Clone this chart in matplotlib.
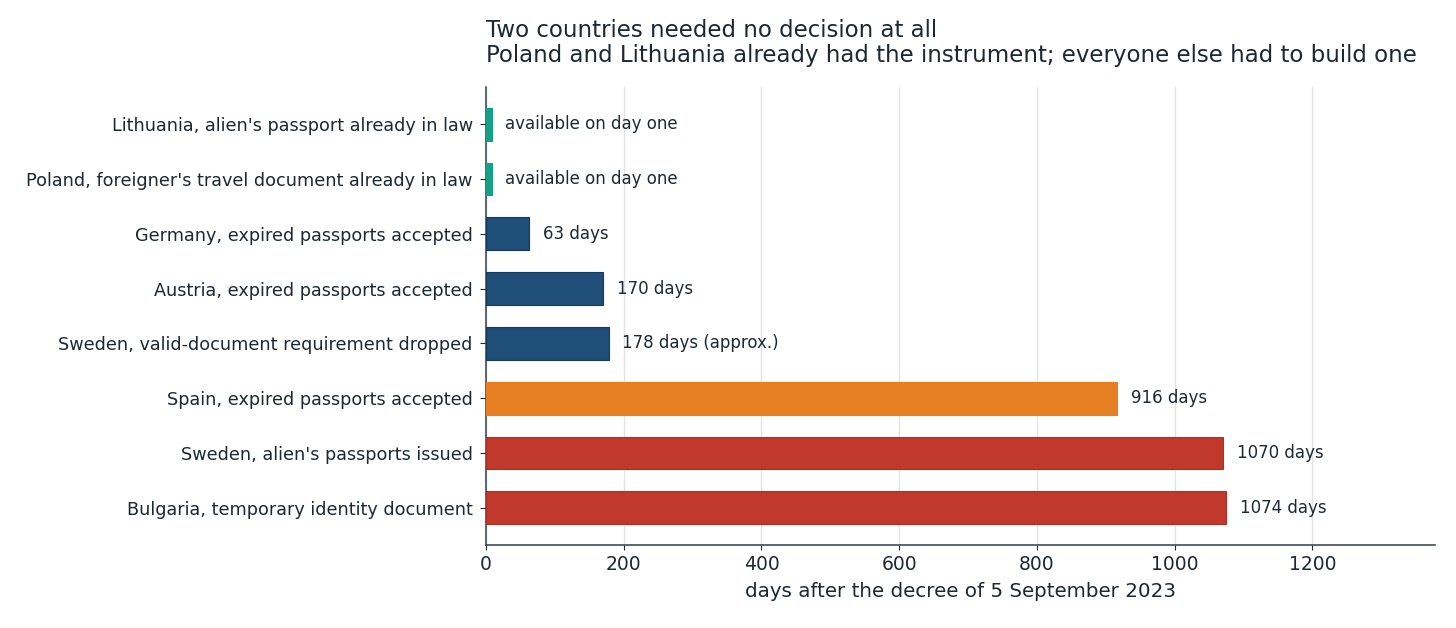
import numpy as np
import matplotlib.pyplot as plt

plt.rcParams['font.family'] = ['DejaVu Sans']

labels = [
    "Lithuania, alien's passport already in law",
    "Poland, foreigner's travel document already in law",
    "Germany, expired passports accepted",
    "Austria, expired passports accepted",
    "Sweden, valid-document requirement dropped",
    "Spain, expired passports accepted",
    "Sweden, alien's passports issued",
    "Bulgaria, temporary identity document",
]
days = [0, 0, 63, 170, 178, 916, 1070, 1074]
notes = ["available on day one", "available on day one", "63 days", "170 days",
         "178 days (approx.)", "916 days", "1070 days", "1074 days"]
groups = ["none", "none", "fast", "fast", "fast", "mid", "slow", "slow"]

colors = {"none": "#16a085", "fast": "#1f4e79", "mid": "#e67e22", "slow": "#c0392b"}
edges = {"none": "#16a085", "fast": "#163a5c", "mid": "#e67e22", "slow": "#a93226"}
ink = "#1c2836"

fig = plt.figure(figsize=(14.56, 6.28), dpi=100)
ax = fig.add_axes([0.3338, 0.1322, 0.6518, 0.7293])

y = np.arange(len(labels))
# zero-day bars get a small stub so they stay visible
shown = [max(d, 8) for d in days]
ax.barh(y, shown, height=0.6,
        color=[colors[g] for g in groups],
        edgecolor=[edges[g] for g in groups], linewidth=0.8, zorder=3)

for yi, w, t in zip(y, shown, notes):
    ax.annotate(t, (w, yi), xytext=(10, 0), textcoords="offset points",
                va="center", ha="left", fontsize=12, color=ink)

ax.set_yticks(y)
ax.set_yticklabels(labels, fontsize=12.7, color=ink)
ax.set_ylim(len(labels) - 0.32, -0.68)
ax.set_xlim(0, 1378)
ax.set_xticks([0, 200, 400, 600, 800, 1000, 1200])
ax.tick_params(axis="x", labelsize=13.5, colors=ink)
ax.tick_params(axis="y", colors=ink, length=4.5, pad=5)
ax.set_xlabel("days after the decree of 5 September 2023", fontsize=14.3, color=ink, labelpad=6)
ax.grid(axis="x", color="#e3e3e3", linewidth=1, zorder=0)
for s in ["top", "right"]:
    ax.spines[s].set_visible(False)
for s in ["left", "bottom"]:
    ax.spines[s].set_color("#2c3e50")
    ax.spines[s].set_linewidth(1.1)

ax.set_title("Two countries needed no decision at all\n"
             "Poland and Lithuania already had the instrument; everyone else had to build one",
             loc="left", fontsize=16.5, color=ink, pad=18, linespacing=1.1)

fig.savefig("out.png", dpi=100)
